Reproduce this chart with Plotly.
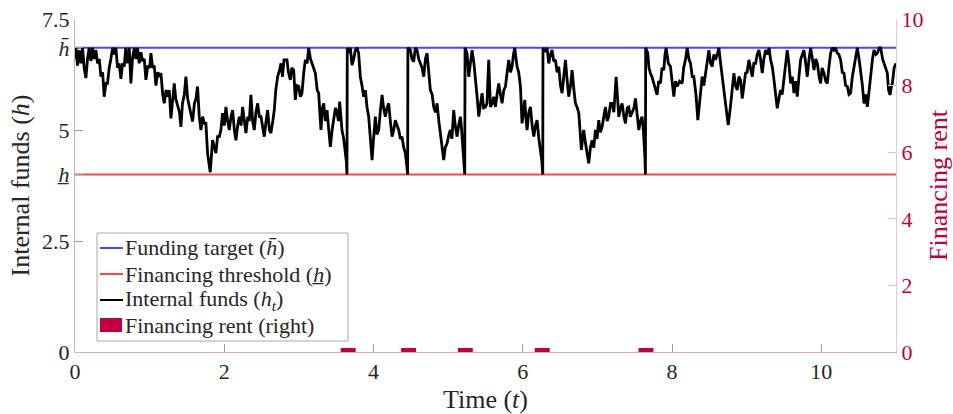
import plotly.graph_objects as go

# Barrier levels for internal funds
H_TARGET = 6.85      # funding target (h-bar)
H_THRESHOLD = 4.0    # financing threshold (h-underbar)
T_END = 11

# Simulated path of internal funds h_t (time, level)
t_path = [
    0, 0.012, 0.034, 0.056, 0.079, 0.101, 0.123, 0.146, 0.168, 0.19, 0.213, 0.235, 0.257, 0.28,
    0.302, 0.325, 0.347, 0.37, 0.391, 0.414, 0.436, 0.458, 0.481, 0.503, 0.525, 0.548, 0.57,
    0.592, 0.615, 0.637, 0.659, 0.68, 0.704, 0.727, 0.749, 0.77, 0.794, 0.816, 0.838, 0.86,
    0.883, 0.905, 0.928, 0.95, 0.975, 1.0, 1.017, 1.04, 1.062, 1.084, 1.11, 1.13, 1.151, 1.175,
    1.196, 1.22, 1.24, 1.263, 1.285, 1.31, 1.33, 1.35, 1.375, 1.4, 1.419, 1.44, 1.465, 1.486,
    1.51, 1.531, 1.555, 1.575, 1.6, 1.62, 1.642, 1.665, 1.687, 1.71, 1.735, 1.754, 1.776, 1.795,
    1.812, 1.843, 1.865, 1.888, 1.91, 1.933, 1.955, 1.977, 2.0, 2.022, 2.045, 2.067, 2.09, 2.112,
    2.135, 2.156, 2.18, 2.201, 2.225, 2.246, 2.27, 2.29, 2.315, 2.335, 2.357, 2.38, 2.402, 2.425,
    2.447, 2.47, 2.492, 2.515, 2.536, 2.56, 2.581, 2.605, 2.625, 2.65, 2.67, 2.69, 2.715, 2.74,
    2.76, 2.78,
    2.8, 2.84, 2.86, 2.885, 2.905, 2.93, 2.952, 2.975, 2.997, 3.02, 3.041, 3.065, 3.086, 3.11,
    3.131, 3.155, 3.175, 3.2, 3.22, 3.245, 3.265, 3.28, 3.296, 3.315, 3.332, 3.355, 3.377, 3.4,
    3.421, 3.445, 3.466, 3.49, 3.511, 3.53, 3.546, 3.56, 3.577, 3.6, 3.622, 3.635, 3.644, 3.648,
    3.667, 3.69, 3.711, 3.735, 3.756, 3.78, 3.8, 3.823, 3.845, 3.868, 3.89, 3.912, 3.935, 3.957,
    3.98, 4.0, 4.024, 4.045, 4.069, 4.09, 4.114, 4.135, 4.158, 4.18, 4.203, 4.225, 4.248, 4.27,
    4.292, 4.315, 4.337, 4.36, 4.381, 4.405, 4.426, 4.445, 4.457, 4.46, 4.493, 4.515, 4.538,
    4.56, 4.583, 4.605, 4.627, 4.65, 4.672, 4.695, 4.717, 4.74, 4.761, 4.785, 4.806, 4.83,
    4.851, 4.875, 4.895, 4.92, 4.94, 4.96, 4.985, 5.01, 5.03, 5.05, 5.074, 5.095, 5.119, 5.14,
    5.164, 5.18, 5.199, 5.212, 5.222, 5.226, 5.253, 5.275, 5.3, 5.32, 5.345, 5.365, 5.39, 5.41,
    5.43, 5.454, 5.475, 5.499,
    5.52, 5.543, 5.566, 5.59, 5.61, 5.633, 5.655, 5.677, 5.7, 5.722, 5.745, 5.767, 5.79, 5.811,
    5.835, 5.856, 5.875, 5.892, 5.91, 5.923, 5.945, 5.968, 5.99, 6.01, 6.026, 6.04, 6.057, 6.08,
    6.102, 6.125, 6.147, 6.17, 6.191, 6.215, 6.236, 6.255, 6.267, 6.27, 6.303, 6.325, 6.347,
    6.37, 6.392, 6.415, 6.437, 6.46, 6.481, 6.505, 6.526, 6.55, 6.571, 6.595, 6.615, 6.64, 6.66,
    6.685, 6.705, 6.73, 6.75, 6.77, 6.785, 6.8, 6.816, 6.84, 6.861, 6.883, 6.905, 6.928, 6.95,
    6.973, 6.995, 7.017, 7.04, 7.062, 7.085, 7.107, 7.13, 7.151, 7.175, 7.196, 7.22, 7.25, 7.27,
    7.286, 7.31, 7.33, 7.355, 7.375, 7.4, 7.42, 7.44, 7.464, 7.49, 7.509, 7.53, 7.554, 7.575,
    7.598, 7.615, 7.625, 7.635, 7.643, 7.646, 7.674, 7.69, 7.71, 7.73, 7.755, 7.78, 7.799, 7.82,
    7.844, 7.865, 7.889, 7.905, 7.92, 7.95, 7.978, 8.0, 8.023, 8.045, 8.068, 8.1, 8.135, 8.155,
    8.179, 8.202, 8.225, 8.247, 8.27,
    8.291, 8.32, 8.345, 8.37, 8.403, 8.425, 8.448, 8.47, 8.493, 8.515, 8.537, 8.56, 8.582, 8.605,
    8.627, 8.65, 8.671, 8.695, 8.716, 8.735, 8.752, 8.78, 8.805, 8.828, 8.85, 8.873, 8.895,
    8.917, 8.94, 8.96, 8.984, 9.005, 9.029, 9.05, 9.074, 9.095, 9.119, 9.14, 9.163, 9.185, 9.208,
    9.23, 9.253, 9.275, 9.3, 9.32, 9.345, 9.365, 9.385, 9.409, 9.43, 9.454, 9.475, 9.499, 9.52,
    9.543, 9.565, 9.588, 9.61, 9.633, 9.655, 9.677, 9.7, 9.722, 9.745, 9.767, 9.79, 9.811,
    9.835, 9.856, 9.88, 9.901, 9.925, 9.946, 9.97, 9.99, 10.01, 10.035, 10.058, 10.08, 10.1,
    10.124, 10.145, 10.169, 10.19, 10.214, 10.235, 10.258, 10.28, 10.303, 10.325, 10.348, 10.37,
    10.392, 10.415, 10.437, 10.46, 10.482, 10.505, 10.526, 10.55, 10.571, 10.595, 10.616, 10.64,
    10.66, 10.685, 10.705, 10.73, 10.75, 10.775, 10.795, 10.82, 10.839, 10.86, 10.884, 10.9,
    10.92, 10.94, 10.951, 10.975, 11.0,
]
h_path = [
    6.6, 6.85, 6.45, 6.8, 6.5, 6.85, 6.4, 6.17, 6.6, 6.85, 6.55, 6.85, 6.6, 6.8,
    6.5, 6.6, 6.2, 6.3, 5.75, 6.05, 6.05, 6.4, 6.6, 6.85, 6.7, 6.85, 6.4,
    6.5, 6.15, 6.5, 6.43, 6.85, 6.5, 6.85, 6.05, 6.6, 6.85, 6.6, 6.85, 6.5,
    6.75, 6.55, 6.6, 6.13, 6.45, 6.4, 6.73, 6.4, 6.45, 6.0, 6.3, 6.2, 6.28, 5.8,
    5.6, 5.9, 5.75, 5.9, 5.26, 5.7, 6.05, 5.7, 5.52, 5.4, 5.07, 5.6, 5.8, 6.2,
    5.7, 5.52, 5.4, 5.19, 5.6, 5.7, 5.98, 5.3, 5.0, 5.3, 5.15, 5.15, 4.48, 4.3,
    4.05, 4.77, 4.6, 4.48, 4.85, 4.85, 5.0, 5.38, 5.1, 5.52, 5.2, 5.0, 5.3, 5.45,
    5.0, 4.77, 5.1, 5.3, 5.1, 5.52, 5.2, 4.93, 5.3, 5.2, 5.79, 5.2, 5.0, 5.4,
    5.6, 5.3, 5.3, 5.1, 4.85, 5.2, 5.45, 5.0, 4.93, 5.2, 5.45, 5.9, 6.2, 6.35,
    6.5, 6.2,
    6.58, 6.58, 6.3, 6.13, 6.4, 6.35, 5.68, 6.0, 5.98, 5.75, 5.83, 6.3, 6.58, 6.5,
    6.85, 6.6, 6.5, 6.4, 6.28, 5.9, 5.83, 5.4, 5.0, 5.5, 5.6, 5.2, 5.45, 5.0,
    4.62, 5.0, 5.22, 5.5, 5.38, 5.2, 5.64, 5.4, 5.0, 4.8, 4.48, 4.3, 4.0, 6.85,
    6.73, 6.85, 6.46, 6.6, 6.8, 6.85, 6.73, 6.2, 6.0, 5.75, 5.9, 5.52, 5.3, 4.77,
    4.32, 4.8, 5.3, 4.9, 5.0, 5.4, 5.79, 5.5, 5.3, 5.5, 5.6, 5.2, 4.85, 5.0,
    5.22, 5.1, 5.0, 4.8, 4.85, 4.6, 4.48, 4.2, 4.0, 6.85, 6.8, 6.6, 6.54,
    6.85, 6.8, 6.6, 6.5, 6.4, 6.2, 6.6, 6.73, 6.2, 5.9, 5.8, 5.52, 5.4,
    5.6, 5.2, 4.93, 4.6, 4.32, 4.6, 4.7, 4.9, 5.0, 4.8, 5.45, 5.1, 4.85, 5.1,
    5.3, 5.0, 4.55, 4.3, 4.0, 6.85, 6.73, 6.2, 6.6, 6.8, 6.5, 6.2, 5.7, 5.3,
    5.6, 5.83, 5.5, 5.52,
    5.6, 6.58, 5.52, 5.6, 5.75, 5.52, 5.8, 6.05, 5.8, 5.6, 5.9, 5.98, 6.3, 6.58,
    6.3, 6.43, 6.7, 6.85, 6.6, 6.43, 6.3, 5.98, 5.15, 5.5, 5.68, 5.3, 5.0, 5.4,
    5.52, 5.1, 4.85, 5.1, 5.22, 4.8, 4.55, 4.3, 4.0, 6.85, 6.76, 6.85, 6.5,
    6.7, 6.8, 6.55, 6.58, 6.3, 6.43, 6.0, 5.83, 6.3, 6.58, 6.1, 5.75, 6.0, 6.35,
    5.9, 5.6, 5.5, 5.38, 4.9, 4.55, 4.8, 5.0, 4.7, 4.48, 4.25, 4.6, 4.77, 4.6,
    5.0, 4.8, 5.22, 4.95, 5.07, 5.3, 5.52, 5.2, 5.3, 5.6, 5.6, 5.4, 6.2, 5.7,
    5.3, 5.5, 5.6, 5.3, 5.15, 5.5, 5.52, 5.3, 5.38, 5.5, 5.71, 5.3, 5.0, 5.2,
    5.3, 5.0, 4.77, 4.4, 4.0, 6.85, 6.73, 6.4, 6.28, 6.2, 6.05, 5.9, 5.79, 6.1,
    6.05, 6.4, 6.35, 6.7, 6.85, 6.5, 6.43, 6.1, 5.75, 6.1, 5.98, 6.1, 6.05, 6.4,
    6.58, 6.85, 6.6, 6.5, 6.2,
    6.2, 5.8, 5.22, 5.6, 6.2, 6.0, 6.28, 6.6, 6.8, 6.5, 6.43, 6.7, 6.58, 6.7,
    6.85, 6.5, 6.2, 5.9, 5.52, 5.3, 5.11, 5.5, 5.9, 6.28, 6.0, 5.9, 6.2,
    6.13, 5.71, 6.0, 6.28, 6.3, 6.58, 6.4, 6.2, 6.5, 6.5, 6.7, 6.8, 6.6, 6.28,
    6.6, 6.8, 6.7, 6.85, 6.58, 6.4, 6.13, 5.8, 5.49, 5.7, 5.9, 5.8, 6.13, 6.5,
    6.8, 6.5, 6.05, 6.2, 5.83, 6.1, 5.75, 6.2, 6.58, 6.7, 6.8, 6.5, 6.2,
    6.6, 6.85, 6.6, 6.35, 6.6, 6.5, 6.2, 6.05, 6.4, 6.28, 6.1, 6.05, 6.4,
    6.73, 6.85, 6.8, 6.85, 6.73, 6.7, 6.58, 6.3, 6.28, 6.0, 5.98, 5.8,
    5.83, 6.2, 6.43, 6.7, 6.85, 6.6, 6.35, 6.0, 5.6, 5.8, 5.52, 6.0,
    6.2, 6.6, 6.8, 6.7, 6.73, 6.85, 6.85, 6.6, 6.5, 6.4, 6.28, 5.9,
    5.79, 6.0, 6.05, 6.4, 6.5,
]

# Financing events (time, rent paid)
rent_t = [3.66, 4.47, 5.23, 6.26, 7.65]
rent_v = [0.12, 0.12, 0.12, 0.12, 0.12]

x_ticks = [0, 2, 4, 6, 8, 10]
y_ticks = [0, 2.5, H_THRESHOLD, 5, H_TARGET, 7.5]

OVER_H = "<i>h\u0304</i>"    # h with a bar above
UNDER_H = "<i>h\u0332</i>"   # h with a bar below
y_ticktext = ["0", "2.5", UNDER_H, "5", OVER_H, "7.5"]
y2_ticks = [0, 2, 4, 6, 8, 10]

FONT = "Liberation Serif"
INK = "#262626"
CRIMSON = "#bf0040"
BLUE = "#4646ff"
RED = "#ff4646"

# Legend entries: (label, colour, kind)
legend_labels = [
    f"Funding target ({OVER_H})",
    f"Financing threshold ({UNDER_H})",
    "Internal funds (<i>h</i><sub><i>t</i></sub>)",
    "Financing rent (right)",
]
legend_colors = [BLUE, RED, "black", CRIMSON]
legend_kinds = ["line", "line", "line", "patch"]

fig = go.Figure()
fig.add_trace(go.Scatter(
    x=[0, T_END], y=[H_TARGET, H_TARGET], mode="lines",
    line=dict(color=BLUE, width=2), name=legend_labels[0]))
fig.add_trace(go.Scatter(
    x=[0, T_END], y=[H_THRESHOLD, H_THRESHOLD], mode="lines",
    line=dict(color=RED, width=2), name=legend_labels[1]))
fig.add_trace(go.Scatter(
    x=t_path, y=h_path, mode="lines",
    line=dict(color="black", width=2.8), name=legend_labels[2]))
fig.add_trace(go.Bar(
    x=rent_t, y=rent_v, width=0.2, yaxis="y2",
    marker=dict(color=CRIMSON, line=dict(width=0)), name=legend_labels[3]))

# Compact boxed legend in the lower-left corner (paper coordinates)
PLOT_L, PLOT_T, PLOT_W, PLOT_H = 75, 19, 821, 333


def px_x(p):
    return (p - PLOT_L) / PLOT_W


def px_y(p):
    return (PLOT_T + PLOT_H - p) / PLOT_H


box_l, box_r, box_t, box_b = 97, 348, 233, 341
row_y = [248, 274, 300, 325]
shapes = [dict(
    type="rect", xref="paper", yref="paper",
    x0=px_x(box_l), x1=px_x(box_r), y0=px_y(box_b), y1=px_y(box_t),
    line=dict(color="#a8a8a8", width=1), fillcolor="white", layer="above",
)]
annotations = []
for label, color, kind, ry in zip(legend_labels, legend_colors, legend_kinds, row_y):
    if kind == "line":
        shapes.append(dict(
            type="line", xref="paper", yref="paper",
            x0=px_x(100), x1=px_x(123), y0=px_y(ry), y1=px_y(ry),
            line=dict(color=color, width=2), layer="above",
        ))
    else:
        shapes.append(dict(
            type="rect", xref="paper", yref="paper",
            x0=px_x(100), x1=px_x(122), y0=px_y(ry + 7), y1=px_y(ry - 7),
            line=dict(width=0), fillcolor=color, layer="above",
        ))
    annotations.append(dict(
        xref="paper", yref="paper", x=px_x(123), y=px_y(ry),
        xanchor="left", yanchor="middle", showarrow=False, text=label,
        font=dict(family=FONT, size=22, color=INK),
    ))

fig.update_layout(
    width=953, height=414,
    margin=dict(l=75, r=57, t=19, b=62, autoexpand=False),
    paper_bgcolor="white", plot_bgcolor="white",
    font=dict(family=FONT, size=22, color=INK),
    showlegend=False,
    shapes=shapes,
    annotations=annotations,
    xaxis=dict(
        range=[0, T_END], tickvals=x_ticks, ticks="inside", ticklen=8,
        tickcolor="#9a9a9a", showline=True, linecolor="#eaa3b9", linewidth=1,
        showgrid=False, zeroline=False, automargin=False,
        title=dict(text="Time (<i>t</i>)", standoff=14),
    ),
    yaxis=dict(
        range=[0, 7.5], tickvals=y_ticks, ticktext=y_ticktext, ticks="inside",
        ticklen=8, tickcolor="#9a9a9a", showline=True, linecolor="#b4b4b4",
        showgrid=False, zeroline=False, automargin=False,
        title=dict(text="Internal funds (<i>h</i>)", standoff=4),
    ),
    yaxis2=dict(
        overlaying="y", side="right", range=[0, 10], tickvals=y2_ticks,
        ticks="inside", ticklen=8, tickcolor="#f0b8ca", showline=True,
        linecolor="#f3c3d3", showgrid=False, zeroline=False, automargin=False,
        tickfont=dict(color=CRIMSON),
        title=dict(text="Financing rent", font=dict(color=CRIMSON), standoff=8),
    ),
)

fig.write_html("out.html")
